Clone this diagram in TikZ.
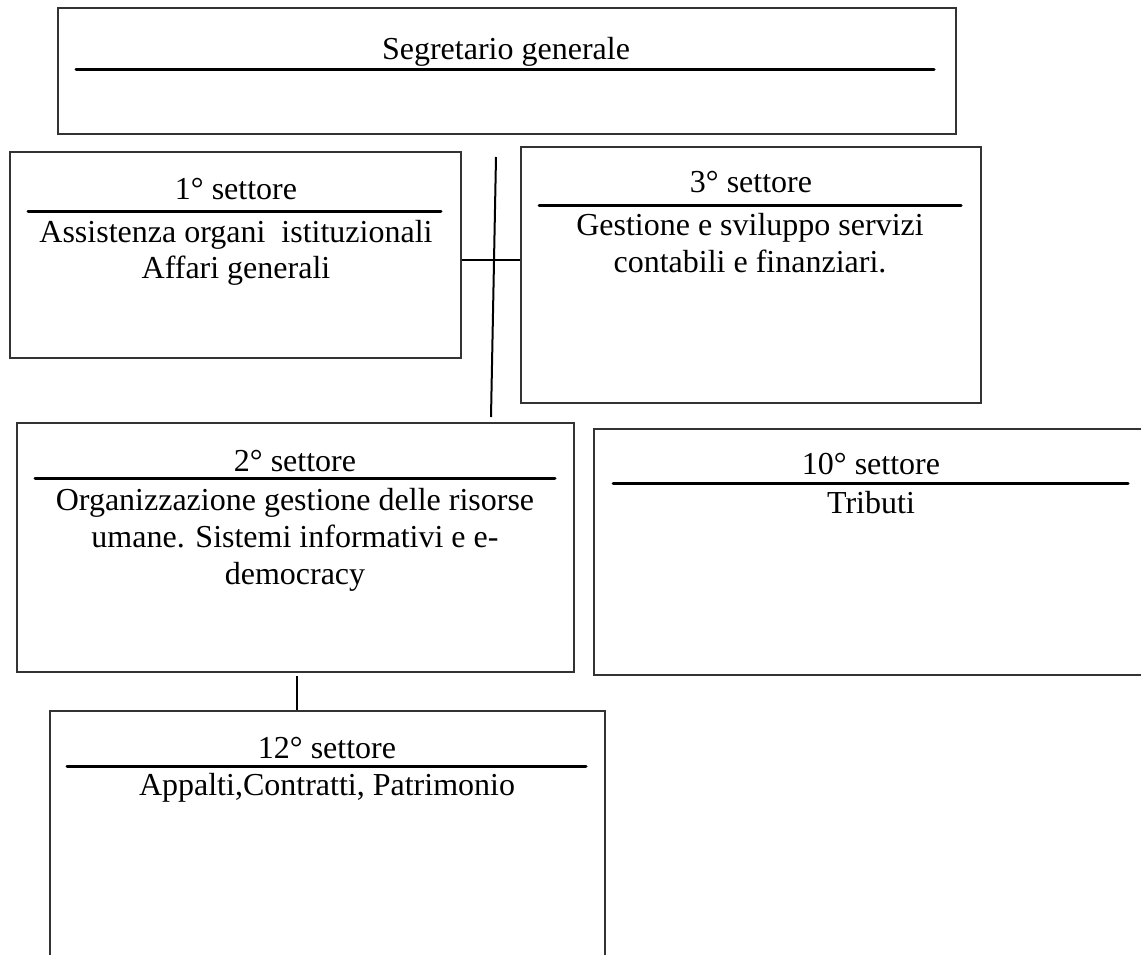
\documentclass[tikz,border=0pt]{standalone}
\usepackage{fontspec}
\setmainfont{Liberation Serif}
\begin{document}
\begin{tikzpicture}[x=1pt,y=-1pt,
  box/.style={draw=black!80, line width=1.6pt, anchor=north west, inner sep=0pt},
  titlerule/.style={line width=3pt, line cap=round},
  conn/.style={line width=2pt},
  lbl/.style={anchor=base, inner sep=0pt, font=\fontsize{32}{36}\selectfont}]
\useasboundingbox (0,0) rectangle (1141,955);
% boxes
\node[box, minimum width=898pt, minimum height=126pt] (sg) at (57,7) {};
\node[box, minimum width=451pt, minimum height=206pt] (s1) at (9,151) {};
\node[box, minimum width=460pt, minimum height=256pt] (s3) at (520,146) {};
\node[box, minimum width=557pt, minimum height=249pt] (s2) at (16,422) {};
\node[box, minimum width=560pt, minimum height=246pt] (s10) at (593,428) {};
\node[box, minimum width=555pt, minimum height=260pt] (s12) at (49,710) {};
% texts
\node[lbl] (tsg) at (506,60) {Segretario generale};
\draw[titlerule] (76,70) -- (934,70);

\node[lbl] (t1) at (236,200) {1° settore};
\draw[titlerule] (28,211) -- (441,211);
\node[lbl] (t1a) at (236,242) {Assistenza organi\ \ istituzionali};
\node[lbl] (t1b) at (236,278) {Affari generali};

\node[lbl] (t3) at (751,193) {3° settore};
\draw[titlerule] (539,205) -- (961,205);
\node[lbl] (t3a) at (750,235) {Gestione e sviluppo servizi};
\node[lbl] (t3b) at (750,272) {contabili e finanziari.};

\node[lbl] (t2) at (295,471) {2° settore};
\draw[titlerule] (35,478) -- (555,478);
\node[lbl] (t2a) at (295,510) {Organizzazione gestione delle risorse};
\node[lbl] (t2b) at (295,547) {umane. Sistemi informativi e e-};
\node[lbl] (t2c) at (295,584) {democracy};

\node[lbl] (t10) at (871,474) {10° settore};
\draw[titlerule] (613,483) -- (1128,483);
\node[lbl] (t10a) at (871,513) {Tributi};

\node[lbl] (t12) at (327,758) {12° settore};
\draw[titlerule] (67,766) -- (586,766);
\node[lbl] (t12a) at (327,795) {Appalti,Contratti, Patrimonio};
% connectors
\coordinate (vt) at (496,157);
\coordinate (vb) at (491,417);
\draw[conn] (vt) -- (vb);
\draw[conn] ([yshift=-5pt]s1.east) -- ([yshift=-5pt]s1.east -| s3.west);
\coordinate (c2) at (297,676);
\draw[conn] (c2) -- (c2 |- s12.north);
\end{tikzpicture}
\end{document}
